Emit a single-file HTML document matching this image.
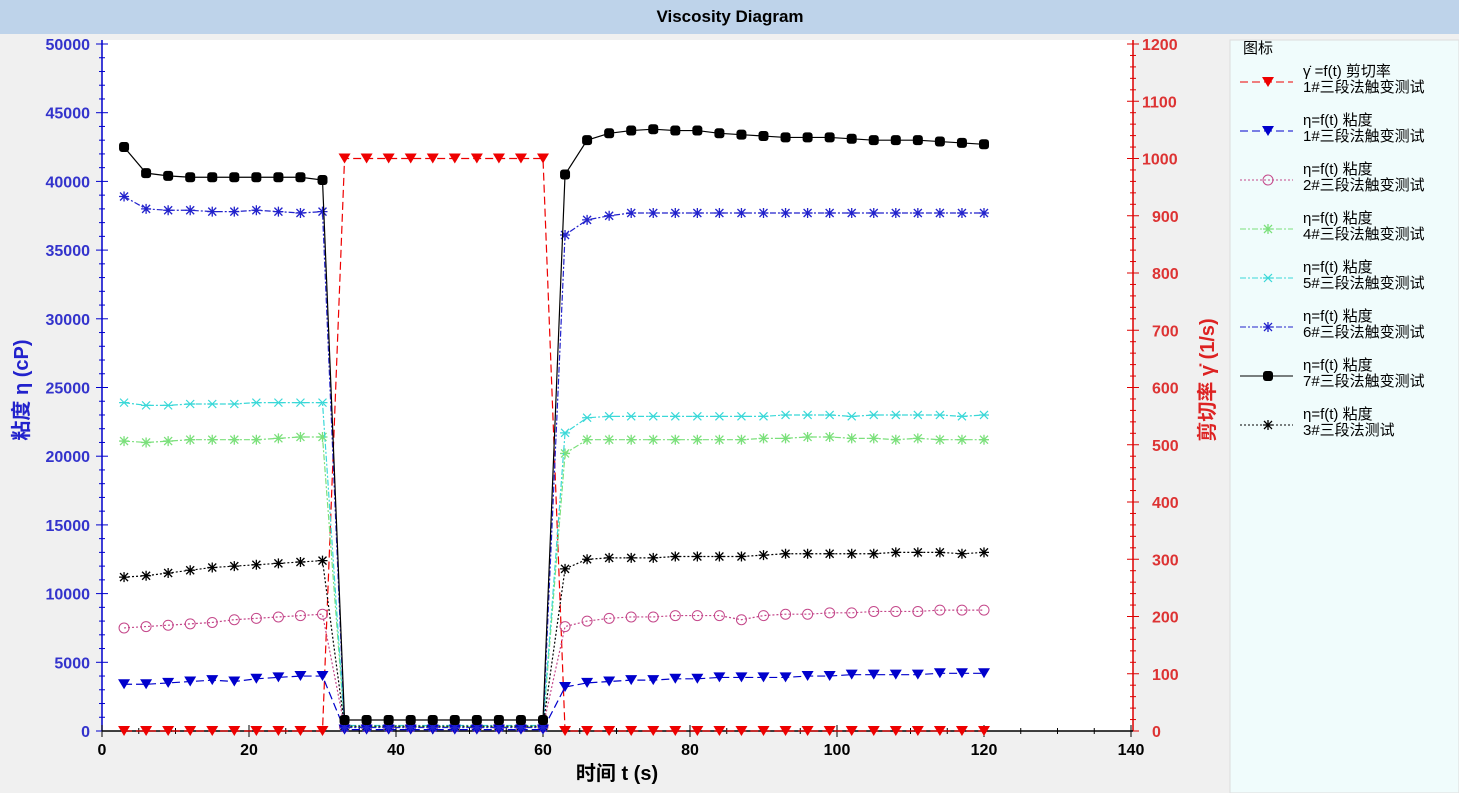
<!DOCTYPE html>
<html><head><meta charset="utf-8">
<style>
html,body{margin:0;padding:0;width:1459px;height:793px;overflow:hidden;background:#f0f0f0;font-family:"Liberation Sans","Noto Sans CJK SC",sans-serif;}
</style></head>
<body>
<svg id="s" width="1459" height="793" xmlns="http://www.w3.org/2000/svg" style="position:absolute;left:0;top:0"></svg>
<script>
const S=document.getElementById('s');
let h='';
const X=t=>102+7.35*t, Y=v=>731-v/50000*687, YR=v=>731-v/1200*687;
h+='<rect x="0" y="0" width="1459" height="34" fill="#bed3ea"/>';
h+='<text x="730" y="22" font-size="17" font-weight="bold" text-anchor="middle" font-family="Liberation Sans,sans-serif">Viscosity Diagram</text>';
h+='<rect x="102" y="40" width="1031" height="691" fill="#fff"/>';
h+='<rect x="1230" y="40" width="229" height="753" fill="#f0fcfc" stroke="#ddd"/>';
h+='<line x1="102" y1="40" x2="102" y2="731" stroke="#00c" stroke-width="1.5"/>';
for(let v=0;v<=50000;v+=1000){const y=Y(v),maj=v%5000==0;h+=`<line x1="${maj?96:99}" y1="${y}" x2="${maj?108:105}" y2="${y}" stroke="#00c"/>`;
if(maj)h+=`<text x="90" y="${y+6}" font-size="16" font-weight="bold" fill="#3333cc" text-anchor="end">${v}</text>`;}
h+='<line x1="1133" y1="40" x2="1133" y2="731" stroke="#d00" stroke-width="1.5"/>';
for(let v=0;v<=1200;v+=20){const y=YR(v),maj=v%100==0;h+=`<line x1="${maj?1127:1130}" y1="${y}" x2="${maj?1139:1136}" y2="${y}" stroke="#d00"/>`;
if(maj)h+=`<text x="${v>=1000?1142:1152}" y="${y+6}" font-size="16" font-weight="bold" fill="#dd3333">${v}</text>`;}
h+='<line x1="102" y1="731" x2="1133" y2="731" stroke="#000" stroke-width="1.5"/>';
for(let t=0;t<=140;t+=5){const x=X(t),maj=t%20==0;h+=`<line x1="${x}" y1="${maj?725:728}" x2="${x}" y2="${maj?737:734}" stroke="#000"/>`;
if(maj)h+=`<text x="${x}" y="755" font-size="16" font-weight="bold" text-anchor="middle">${t}</text>`;}
h+='<text x="617" y="780" font-size="20" font-weight="bold" text-anchor="middle">时间 t (s)</text>';
h+='<text transform="translate(28,390) rotate(-90)" font-size="20" font-weight="bold" fill="#22c" text-anchor="middle">粘度 η (cP)</text>';
h+='<text transform="translate(1214,380) rotate(-90)" font-size="20" font-weight="bold" fill="#d22" text-anchor="middle">剪切率 γ̇ (1/s)</text>';
const T=[];for(let t=3;t<=120;t+=3)T.push(t);
function mk(type,x,y,c){
 if(type=='tri')return `<polygon points="${x-6},${y-5} ${x+6},${y-5} ${x},${y+5}" fill="${c}"/>`;
 if(type=='circ')return `<circle cx="${x}" cy="${y}" r="5" fill="none" stroke="${c}"/>`;
 if(type=='sq')return `<rect x="${x-5}" y="${y-5}" width="10" height="10" rx="3" fill="${c}"/>`;
 if(type=='star')return `<path d="M${x-5} ${y}H${x+5}M${x} ${y-5}V${y+5}M${x-4} ${y-4}L${x+4} ${y+4}M${x-4} ${y+4}L${x+4} ${y-4}" stroke="${c}" stroke-width="1.3"/>`;
 if(type=='x')return `<path d="M${x-4} ${y-4}L${x+4} ${y+4}M${x-4} ${y+4}L${x+4} ${y-4}M${x-5} ${y}H${x+5}" stroke="${c}" stroke-width="1.2"/>`;
}
function series(vals,c,dash,type,yf){
 let p=T.map((t,i)=>X(t)+','+yf(vals[i])).join(' ');
 h+=`<polyline points="${p}" fill="none" stroke="${c}" stroke-width="1.2" ${dash?'stroke-dasharray="'+dash+'"':''}/>`;
 T.forEach((t,i)=>h+=mk(type,X(t),yf(vals[i]),c));
}
const mid=v=>Array(10).fill(v);
const blk=[42500,40600,40400,40300,40300,40300,40300,40300,40300,40100,...mid(800),40500,43000,43500,43700,43800,43700,43700,43500,43400,43300,43200,43200,43200,43100,43000,43000,43000,42900,42800,42700];
const b6=[38900,38000,37900,37900,37800,37800,37900,37800,37700,37800,...mid(250),36100,37200,37500,37700,37700,37700,37700,37700,37700,37700,37700,37700,37700,37700,37700,37700,37700,37700,37700,37700];
const c5=[23900,23700,23700,23800,23800,23800,23900,23900,23900,23900,...mid(400),21700,22800,22900,22900,22900,22900,22900,22900,22900,22900,23000,23000,23000,22900,23000,23000,23000,23000,22900,23000];
const g4=[21100,21000,21100,21200,21200,21200,21200,21300,21400,21400,...mid(300),20200,21200,21200,21200,21200,21200,21200,21200,21200,21300,21300,21400,21400,21300,21300,21200,21300,21200,21200,21200];
const k3=[11200,11300,11500,11700,11900,12000,12100,12200,12300,12400,...mid(350),11800,12500,12600,12600,12600,12700,12700,12700,12700,12800,12900,12900,12900,12900,12900,13000,13000,13000,12900,13000];
const p2=[7500,7600,7700,7800,7900,8100,8200,8300,8400,8500,...mid(300),7600,8000,8200,8300,8300,8400,8400,8400,8100,8400,8500,8500,8600,8600,8700,8700,8700,8800,8800,8800];
const b1=[3400,3400,3500,3600,3700,3600,3800,3900,4000,4000,...mid(100),3200,3500,3600,3700,3700,3800,3800,3900,3900,3900,3900,4000,4000,4100,4100,4100,4100,4200,4200,4200];
const r=[...mid(0),...mid(1000),...Array(20).fill(0)];
series(r,'#e00','8,4','tri',YR);
series(p2,'#c4478a','2,2','circ',Y);
series(g4,'#7be07b','6,2,2,2','star',Y);
series(c5,'#3ad8d8','6,2,2,2','x',Y);
series(k3,'#000','2,2','star',Y);
series(b1,'#00c','8,4','tri',Y);
series(b6,'#22c','6,2,2,2','star',Y);
series(blk,'#000','','sq',Y);
h+='<text x="1243" y="53" font-size="15">图标</text>';
const L=[['γ̇ =f(t) 剪切率','1#三段法触变测试','#e00','8,4','tri'],['η=f(t) 粘度','1#三段法触变测试','#00c','8,4','tri'],['η=f(t) 粘度','2#三段法触变测试','#c4478a','2,2','circ'],['η=f(t) 粘度','4#三段法触变测试','#7be07b','6,2,2,2','star'],['η=f(t) 粘度','5#三段法触变测试','#3ad8d8','6,2,2,2','x'],['η=f(t) 粘度','6#三段法触变测试','#22c','6,2,2,2','star'],['η=f(t) 粘度','7#三段法触变测试','#000','','sq'],['η=f(t) 粘度','3#三段法测试','#000','2,2','star']];
L.forEach((e,i)=>{const y=82+i*49;
 h+=`<line x1="1240" y1="${y}" x2="1293" y2="${y}" stroke="${e[2]}" ${e[3]?'stroke-dasharray="'+e[3]+'"':''}/>`+mk(e[4],1268,y,e[2]);
 h+=`<text x="1303" y="${y-6}" font-size="15">${e[0]}</text><text x="1303" y="${y+10}" font-size="15">${e[1]}</text>`;});
S.innerHTML=h;
</script>
</body></html>
